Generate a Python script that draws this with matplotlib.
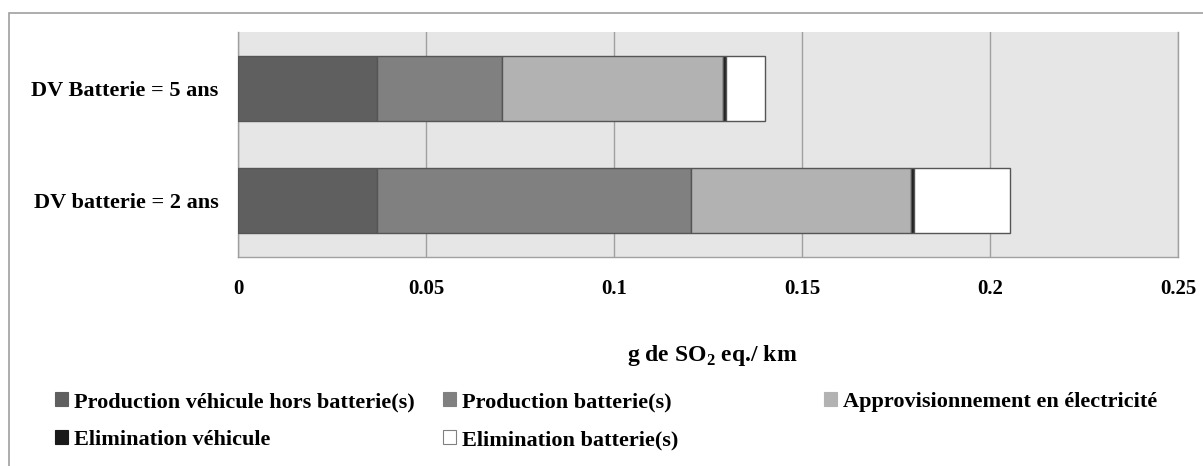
import matplotlib
matplotlib.use('Agg')
import matplotlib.pyplot as plt
from matplotlib.patches import Patch, Rectangle

plt.rcParams['font.family'] = 'Liberation Serif'
plt.rcParams['font.weight'] = 'bold'
plt.rcParams['mathtext.fontset'] = 'custom'
plt.rcParams['mathtext.rm'] = 'Liberation Serif:bold'
plt.rcParams['mathtext.bf'] = 'Liberation Serif:bold'

categories = ['DV batterie = 2 ans', 'DV Batterie = 5 ans']
series = ['Production véhicule hors batterie(s)', 'Production batterie(s)',
          'Approvisionnement en électricité', 'Elimination véhicule',
          'Elimination batterie(s)']
values = [
    [0.0370, 0.0370],   # production vehicule
    [0.0835, 0.0332],   # production batterie
    [0.0585, 0.0588],   # electricite
    [0.0008, 0.0007],   # elimination vehicule
    [0.0255, 0.0104],   # elimination batterie
]
colors = ['#5f5f5f', '#808080', '#b2b2b2', '#1a1a1a', '#ffffff']
xticks = [0, 0.05, 0.1, 0.15, 0.2, 0.25]
xticklabels = ['0', '0.05', '0.1', '0.15', '0.2', '0.25']

W, H = 1203, 466
fig = plt.figure(figsize=(W / 100, H / 100), dpi=100)
ax = fig.add_axes([238 / W, 1 - 257 / H, 940 / W, 225 / H])
ax.set_facecolor('#e6e6e6')

y = range(len(categories))
left = [0.0] * len(categories)
for vals, col in zip(values, colors):
    ax.barh(y, vals, left=left, height=0.58, color=col, edgecolor='#555555',
            linewidth=1.0, zorder=3)
    left = [l + v for l, v in zip(left, vals)]

ax.set_xlim(0, 0.25)
ax.set_ylim(-0.5, 1.5)
ax.set_xticks(xticks)
ax.set_xticklabels(xticklabels, fontsize=15, fontweight='bold')
ax.set_yticks(list(y))
ax.set_yticklabels(categories, fontsize=16, fontweight='bold')
ax.tick_params(axis='x', length=0, pad=16)
ax.tick_params(axis='y', length=0, pad=14)
ax.grid(axis='x', color='#a0a0a0', linewidth=1.0, zorder=0)
ax.set_axisbelow(True)
for s in ['left', 'right', 'bottom']:
    ax.spines[s].set_color('#a0a0a0')
    ax.spines[s].set_linewidth(1.0)
ax.spines['top'].set_visible(False)

fig.text(712 / W, 1 - 355 / H, r'g de SO$_2$ eq./ km', ha='center', va='center',
         fontsize=17, fontweight='bold')

# legend entries placed like the original
legend_pos = [(55 / W, 1 - 402 / H), (443 / W, 1 - 402 / H), (824 / W, 1 - 402 / H),
              (55 / W, 1 - 440 / H), (443 / W, 1 - 440 / H)]
for name, col, pos in zip(series, colors, legend_pos):
    edge = '#808080' if col == '#ffffff' else col
    h = Patch(facecolor=col, edgecolor=edge, linewidth=0.8)
    fig.legend(handles=[h], labels=[name], loc='center left', bbox_to_anchor=pos,
               frameon=False, handlelength=0.6, handleheight=0.6, handletextpad=0.25,
               prop={'family': 'Liberation Serif', 'weight': 'bold', 'size': 16},
               borderaxespad=0, borderpad=0)

# outer chart border
fig.patches.append(Rectangle((9 / W, -0.01), 1.2, 1 - 13 / H + 0.01,
                             transform=fig.transFigure, fill=False,
                             edgecolor='#a0a0a0', linewidth=1.2))

fig.savefig('out.png', dpi=100)
